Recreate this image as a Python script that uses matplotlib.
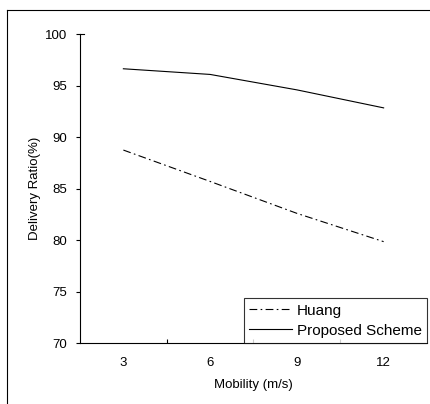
import matplotlib
matplotlib.use("Agg")
import matplotlib.pyplot as plt
from matplotlib.lines import Line2D

plt.rcParams['font.family'] = ['Liberation Sans', 'DejaVu Sans']

mobility = [3, 6, 9, 12]
huang = [88.75, 85.7, 82.6, 79.85]
proposed = [96.65, 96.1, 94.6, 92.85]
yticks = [70, 75, 80, 85, 90, 95, 100]

W, H = 430, 404
fig = plt.figure(figsize=(W / 100, H / 100), dpi=100)
ax = fig.add_axes([80 / W, 1 - 343 / H, 347 / W, (343 - 34.3) / H])

ax.plot(mobility, huang, color='black', lw=0.8, linestyle=(0, (7, 3, 1.5, 3)), label='Huang')
ax.plot(mobility, proposed, color='black', lw=0.8, linestyle='-', label='Proposed Scheme')

ax.set_xlim(1.5, 13.5)
ax.set_ylim(70, 100)
ax.set_yticks(yticks)
ax.set_xticks(mobility)
ax.set_xticks([4.5, 7.5, 10.5], minor=True)
ax.tick_params(axis='x', which='major', length=0, pad=10, labelsize=9.5)
ax.tick_params(axis='x', which='minor', direction='in', length=3, width=0.8)
ax.tick_params(axis='y', direction='out', length=3, width=0.8, pad=6, labelsize=9.5)

for s in ['top', 'right']:
    ax.spines[s].set_visible(False)
for s in ['left', 'bottom']:
    ax.spines[s].set_linewidth(0.8)

# short inward mark at the top of the y axis
ax.plot([1.5, 1.65], [100, 100], color='black', lw=0.8, clip_on=False)

ax.set_xlabel('Mobility (m/s)', fontsize=9.5, labelpad=7)
ax.set_ylabel('Delivery Ratio(%)', fontsize=9.5, labelpad=3)

leg = ax.legend(loc='lower right', bbox_to_anchor=(1.0, 0.0), borderaxespad=0,
                fancybox=False, frameon=True, fontsize=11, handlelength=2.8,
                handletextpad=0.3, labelspacing=0.4, borderpad=0.35)
leg.get_frame().set_edgecolor('black')
leg.get_frame().set_linewidth(0.8)

# outer frame (top and left)
fig.add_artist(Line2D([7 / W, 1.0], [1 - 10 / H, 1 - 10 / H], transform=fig.transFigure, color='black', lw=0.8))
fig.add_artist(Line2D([7 / W, 7 / W], [1 - 10 / H, 0], transform=fig.transFigure, color='black', lw=0.8))

fig.savefig('out.png', dpi=100)
